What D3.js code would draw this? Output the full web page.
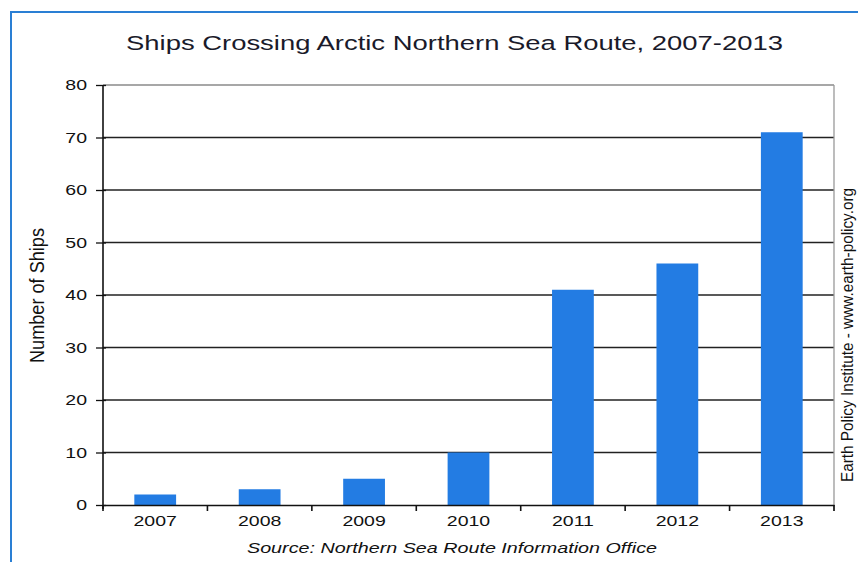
<!DOCTYPE html>
<html>
<head>
<meta charset="utf-8">
<script src="https://cdn.jsdelivr.net/npm/d3@7"></script>
<style>
  html, body { margin: 0; padding: 0; background: #fff; }
  svg { display: block; }
</style>
</head>
<body>
<svg id="chart" width="858" height="562"></svg>
<script>
// Ships transiting the Northern Sea Route per year
const years = ["2007", "2008", "2009", "2010", "2011", "2012", "2013"];
const ships = [2, 3, 5, 10, 41, 46, 71];
const yTicks = [0, 10, 20, 30, 40, 50, 60, 70, 80];

const titleText = "Ships Crossing Arctic Northern Sea Route, 2007-2013";
const yAxisLabel = "Number of Ships";
const sourceText = "Source: Northern Sea Route Information Office";
const creditText = "Earth Policy Institute - www.earth-policy.org";

const FONT = "Arial, 'Liberation Sans', sans-serif";
const WIDEN = 1.3; // the chart's lettering is set wide

const svg = d3.select("#chart");
const W = 858, H = 562;
const plot = { left: 103, right: 834, top: 85, bottom: 505 };

// stretch a text element's glyphs horizontally by a factor
function widen(sel, k) {
  sel.each(function () {
    const len = this.getComputedTextLength();
    d3.select(this).attr("textLength", len * k).attr("lengthAdjust", "spacingAndGlyphs");
  });
}

// outer frame
svg.append("rect")
  .attr("x", 11).attr("y", 12)
  .attr("width", W + 20).attr("height", H + 20)
  .attr("fill", "#fff")
  .attr("stroke", "#2a7fd4").attr("stroke-width", 2);

const x = d3.scaleBand().domain(years)
  .range([plot.left, plot.right]).paddingInner(0.6).paddingOuter(0.3);
const xOuter = d3.scaleBand().domain(years).range([plot.left, plot.right]);
const y = d3.scaleLinear().domain([0, 80]).range([plot.bottom, plot.top]);

// gridlines
svg.append("g").selectAll("line").data(yTicks.filter(t => t > 0)).join("line")
  .attr("x1", plot.left).attr("x2", plot.right)
  .attr("y1", d => y(d)).attr("y2", d => y(d))
  .attr("stroke", d => d === 80 ? "#8a8a8a" : "#222")
  .attr("stroke-width", 1.3);

// right border of plot
svg.append("line")
  .attr("x1", plot.right).attr("x2", plot.right)
  .attr("y1", plot.top).attr("y2", plot.bottom + 6)
  .attr("stroke", "#999").attr("stroke-width", 1.3);

// bars
svg.append("g").selectAll("rect").data(ships).join("rect")
  .attr("x", (d, i) => x(years[i]))
  .attr("width", x.bandwidth())
  .attr("y", d => y(d))
  .attr("height", d => y(0) - y(d))
  .attr("fill", "#237ce3");

// y axis
const yAxis = d3.axisLeft(y).tickValues(yTicks).tickSize(7).tickSizeOuter(0).tickPadding(9);
const gy = svg.append("g").attr("transform", `translate(${plot.left},0)`).call(yAxis);
gy.select(".domain").attr("stroke", "#111").attr("stroke-width", 1.6)
  .attr("d", `M0,${plot.top}V${plot.bottom + 4}`);
gy.selectAll(".tick line").attr("stroke", "#111").attr("stroke-width", 1.3).attr("x2", 3).attr("x1", -7);
gy.selectAll(".tick text")
  .attr("font-family", FONT)
  .attr("font-size", 15).attr("fill", "#111")
  .call(widen, WIDEN);

// x axis: ticks sit between categories
const xAxis = d3.axisBottom(x).tickSize(0).tickPadding(10).tickSizeOuter(0);
const gx = svg.append("g").attr("transform", `translate(0,${plot.bottom})`).call(xAxis);
gx.select(".domain").attr("stroke", "#111").attr("stroke-width", 1.6);
gx.selectAll(".tick text")
  .attr("font-family", FONT)
  .attr("font-size", 15).attr("fill", "#111")
  .call(widen, WIDEN);
svg.append("g").selectAll("line").data(years.concat(["end"])).join("line")
  .attr("x1", (d, i) => i < years.length ? xOuter(d) : plot.right)
  .attr("x2", (d, i) => i < years.length ? xOuter(d) : plot.right)
  .attr("y1", plot.bottom).attr("y2", plot.bottom + 6)
  .attr("stroke", "#111").attr("stroke-width", 1.6);

// title
svg.append("text")
  .attr("x", 126).attr("y", 50)
  .attr("font-family", FONT)
  .attr("font-size", 20.5).attr("fill", "#1a1a2a")
  .attr("textLength", 657).attr("lengthAdjust", "spacingAndGlyphs")
  .text(titleText);

// y axis title (condensed)
svg.append("text")
  .attr("transform", "translate(44,363) rotate(-90)")
  .attr("font-family", FONT)
  .attr("font-size", 19.5).attr("fill", "#111")
  .attr("textLength", 135).attr("lengthAdjust", "spacingAndGlyphs")
  .text(yAxisLabel);

// source note
svg.append("text")
  .attr("x", 247).attr("y", 553)
  .attr("font-family", FONT)
  .attr("font-style", "italic")
  .attr("font-size", 15.5).attr("fill", "#111")
  .attr("textLength", 410).attr("lengthAdjust", "spacingAndGlyphs")
  .text(sourceText);

// credit, rotated along the right edge
svg.append("text")
  .attr("transform", "translate(853,482) rotate(-90)")
  .attr("font-family", FONT)
  .attr("font-size", 16).attr("fill", "#111")
  .attr("textLength", 294).attr("lengthAdjust", "spacingAndGlyphs")
  .text(creditText);
</script>
</body>
</html>
